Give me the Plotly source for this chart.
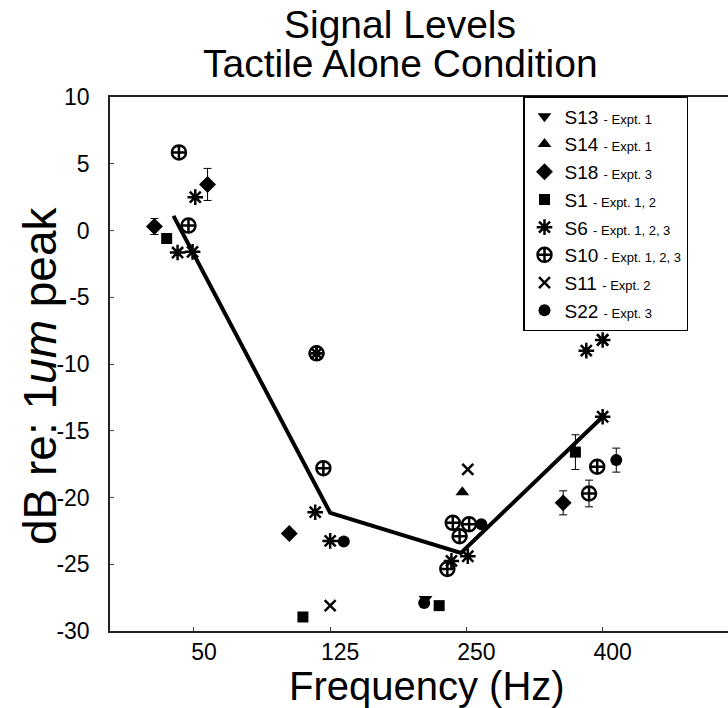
import plotly.graph_objects as go

# category positions: 0=50 Hz, 1=125 Hz, 2=250 Hz, 3=400 Hz
tick_pos = [0, 1, 2, 3]
tick_text = ["50", "125", "250", "400"]
ytick_vals = [10, 5, 0, -5, -10, -15, -20, -25, -30]
ytick_text = ["10", "5", "0", "-5", "-10", "-15", "-20", "-25", "-30"]

s13_x = [1.70]
s13_y = [-27.6]

s14_x = [1.97]
s14_y = [-19.6]

s18_x = [0.10, -0.29, 0.70, 2.71]
s18_y = [3.45, 0.3, -22.7, -20.4]
s18_err = [1.2, 0.6, 0.0, 0.9]

s1_x = [-0.20, 0.80, 1.80, 2.80]
s1_y = [-0.6, -28.95, -28.1, -16.6]
s1_err = [0.0, 0.0, 0.0, 1.3]

s6_x = [0.01, -0.12, -0.01, 0.90, 0.89, 1.00, 2.01, 1.89, 2.88, 3.00, 3.00]
s6_y = [2.5, -1.65, -1.6, -9.2, -21.1, -23.25, -24.4, -24.75, -9.0, -13.95, -8.2]

s10_x = [-0.11, -0.04, 0.90, 0.95, 1.90, 2.02, 1.95, 1.86, 2.96, 2.90]
s10_y = [5.85, 0.37, -9.2, -17.8, -21.9, -22.0, -22.9, -25.35, -17.7, -19.7]
s10_err = [0.0, 0.0, 0.0, 0.0, 0.0, 0.5, 0.0, 0.0, 0.0, 1.0]

s11_x = [1.00, 2.01, 3.00]
s11_y = [-28.1, -17.9, -8.2]

s22_x = [1.10, 2.11, 1.69, 3.10]
s22_y = [-23.3, -22.0, -27.9, -17.2]
s22_err = [0.0, 0.0, 0.0, 0.9]

mean_x = [-0.15, 1.00, 1.96, 3.00]
mean_y = [1.1, -21.15, -24.15, -13.95]

FONT = "Liberation Sans, Arial, sans-serif"


def lbl(name, expt):
    return f"{name} <span style='font-size:13px'>- Expt. {expt}</span>"


def errd(arr):
    return dict(type="data", array=arr, visible=True, color="black",
                thickness=1, width=4)


fig = go.Figure()

fig.add_trace(go.Scatter(x=mean_x, y=mean_y, mode="lines",
                         line=dict(color="black", width=4), showlegend=False))

fig.add_trace(go.Scatter(x=s13_x, y=s13_y, mode="markers", name=lbl("S13", "1"),
                         marker=dict(symbol="triangle-down", size=12, color="black")))
fig.add_trace(go.Scatter(x=s14_x, y=s14_y, mode="markers", name=lbl("S14", "1"),
                         marker=dict(symbol="triangle-up", size=12, color="black")))
fig.add_trace(go.Scatter(x=s18_x, y=s18_y, mode="markers", name=lbl("S18", "3"),
                         error_y=errd(s18_err),
                         marker=dict(symbol="diamond", size=13, color="black")))
fig.add_trace(go.Scatter(x=s1_x, y=s1_y, mode="markers", name=lbl("S1", "1, 2"),
                         error_y=errd(s1_err),
                         marker=dict(symbol="square", size=11, color="black")))
fig.add_trace(go.Scatter(x=s6_x, y=s6_y, mode="markers", name=lbl("S6", "1, 2, 3"),
                         marker=dict(symbol="asterisk", size=13, color="black",
                                     line=dict(color="black", width=2.5))))
fig.add_trace(go.Scatter(x=s10_x, y=s10_y, mode="markers", name=lbl("S10", "1, 2, 3"),
                         error_y=errd(s10_err),
                         marker=dict(symbol="circle-cross-open", size=14, color="black",
                                     line=dict(color="black", width=2.5))))
fig.add_trace(go.Scatter(x=s11_x, y=s11_y, mode="markers", name=lbl("S11", "2"),
                         marker=dict(symbol="x-thin-open", size=11, color="black",
                                     line=dict(color="black", width=2.5))))
fig.add_trace(go.Scatter(x=s22_x, y=s22_y, mode="markers", name=lbl("S22", "3"),
                         error_y=errd(s22_err),
                         marker=dict(symbol="circle", size=12, color="black")))

L, R, T, B = 110, 0, 97, 77
W, H = 728, 708
pw, ph = W - L - R, H - T - B


def px(xp):
    return (xp - L) / pw


def py(yp):
    return (H - B - yp) / ph


fig.update_layout(
    width=W, height=H,
    margin=dict(l=L, r=R, t=T, b=B),
    paper_bgcolor="white", plot_bgcolor="white",
    font=dict(family=FONT, color="black"),
    showlegend=True,
    legend=dict(x=px(523), y=py(96), xanchor="left", yanchor="top",
                bgcolor="white", bordercolor="black", borderwidth=1.5,
                font=dict(size=19, family=FONT, color="black"),
                tracegroupgap=0),
    xaxis=dict(range=[-0.616, 3.92], tickvals=tick_pos, ticktext=tick_text,
               showgrid=False, zeroline=False, showline=True, mirror=True,
               linecolor="#222", linewidth=1.5, ticks="inside", ticklen=4,
               tickcolor="#444", tickfont=dict(size=23, family=FONT),
               ticklabelshift=10, ticklabelstandoff=0),
    yaxis=dict(range=[-30, 10], tickvals=ytick_vals, ticktext=ytick_text,
               showgrid=False, zeroline=False, showline=True, mirror=False,
               linecolor="#222", linewidth=1.5, ticks="inside", ticklen=4,
               tickcolor="#444", tickfont=dict(size=23, family=FONT),
               ticklabelstandoff=14),
    annotations=[
        dict(text="Signal Levels", x=px(400), y=py(24), xref="paper", yref="paper",
             showarrow=False, xanchor="center", yanchor="middle",
             font=dict(size=39, family=FONT)),
        dict(text="Tactile Alone Condition", x=px(400), y=py(64), xref="paper", yref="paper",
             showarrow=False, xanchor="center", yanchor="middle",
             font=dict(size=39, family=FONT)),
        dict(text="Frequency (Hz)", x=px(427), y=py(686), xref="paper", yref="paper",
             showarrow=False, xanchor="center", yanchor="middle",
             font=dict(size=40, family=FONT)),
        dict(text="dB re: 1<i>um</i> peak", x=px(40), y=py(376), xref="paper", yref="paper",
             showarrow=False, xanchor="center", yanchor="middle", textangle=-90,
             font=dict(size=46, family=FONT)),
    ],
)

fig.write_html("out.html")
